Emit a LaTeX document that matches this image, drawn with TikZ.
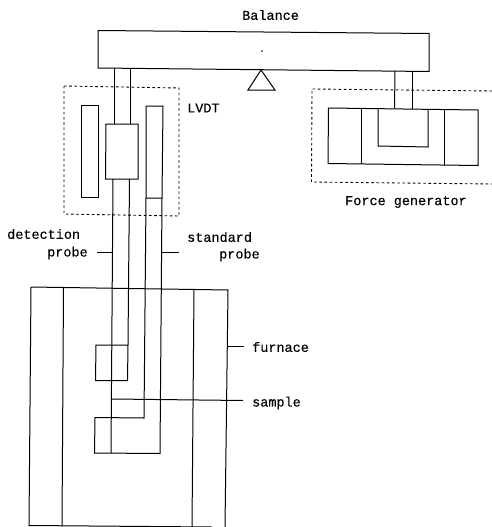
\documentclass[tikz,border=0pt]{standalone}
\usepackage{fontspec}
\setmainfont[FakeBold=0.25]{Liberation Mono}
\tikzset{
  ln/.style={draw=black,line width=1pt,line join=miter},
  dots/.style={draw=black,line width=0.9pt,dash pattern=on 2.6pt off 2.6pt},
  lbl/.style={inner sep=0pt,anchor=west,font=\fontsize{13.5}{15}\selectfont,text=black}
}
\begin{document}
\begin{tikzpicture}[x=1pt,y=-1pt]
\useasboundingbox (0,0) rectangle (492,527);
% balance
\draw[ln] (98,30.5) -- (429,33.5) -- (429,71.5) -- (98,68) -- cycle;
\fill (262,51) circle (0.9pt);
\draw[ln] (261,70) -- (275,90) -- (248,90) -- cycle;
% LVDT
\draw[dots] (64,86) -- (179,88) -- (179,216) -- (64,214) -- cycle;
\draw[ln] (81,105.5) rectangle (98,197);
\draw[ln] (146,106) -- (163,106) -- (162,198) -- (146,198) -- cycle;
\draw[ln] (114,68) -- (114,124);
\draw[ln] (130,68) -- (130,124);
\draw[ln] (106,124) -- (138,124) -- (138,179) -- (105.5,179) -- cycle;
% detection probe
\draw[ln] (113,179) -- (111,453);
\draw[ln] (129.5,179) -- (128,345) -- (96,345) -- (95.5,380.5) -- (127.5,380.5) -- (128,345);
% standard probe
\draw[ln] (146,198) -- (144,418) -- (95,417.5) -- (94.5,453) -- (160,453.5) -- (162,198);
% furnace
\draw[ln] (31,287) -- (228,290) -- (225,527);
\draw[ln] (31,287) -- (29,525.5) -- (212,527);
\draw[ln] (63.5,288) -- (62,526);
\draw[ln] (194,289) -- (192,527);
% force generator
\draw[dots] (492,91) -- (312,89) -- (311.5,182) -- (492,184);
\draw[ln] (395,71) -- (394.5,108.5);
\draw[ln] (412,71) -- (412,109);
\draw[ln] (328.5,108) -- (478,110) -- (478,165.5) -- (328,163.5) -- cycle;
\draw[ln] (361,109) -- (361,164);
\draw[ln] (444,109.5) -- (444,165);
\draw[ln] (378,109) -- (378,146) -- (428,147) -- (428,109.5);
% leaders
\coordinate (detA) at (97,252);
\coordinate (detB) at (112.5,252);
\coordinate (stdA) at (162,252.5);
\coordinate (stdB) at (178.5,252.5);
\coordinate (furA) at (227,346);
\coordinate (furB) at (244,346);
\coordinate (samA) at (112,399);
\coordinate (samB) at (243,400.5);
\draw[ln] (detA) -- (detB);
\draw[ln] (stdA) -- (stdB);
\draw[ln] (furA) -- (furB);
\draw[ln] (samA) -- (samB);
% labels
\node[lbl] (balance) at (242,15) {Balance};
\node[lbl] (lvdt) at (187,108) {LVDT};
\node[lbl] (force) at (345,202) {Force generator};
\node[lbl] (det1) at (7,234) {detection};
\node[lbl] (det2) at (47,253) {probe};
\node[lbl] (std1) at (187,237) {standard};
\node[lbl] (std2) at (219,255) {probe};
\node[lbl] (furn) at (252,347) {furnace};
\node[lbl] (samp) at (252,403) {sample};
\end{tikzpicture}
\end{document}
